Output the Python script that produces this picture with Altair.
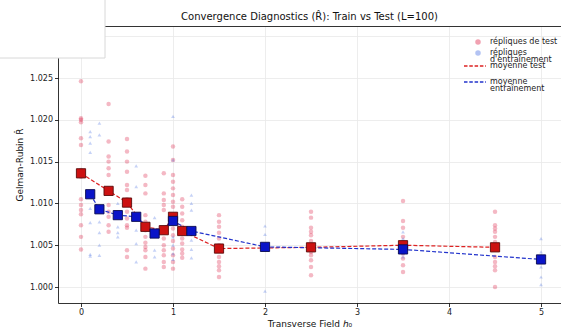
import altair as alt
import pandas as pd

# ---- replicate R-hat values per transverse field (test replicates) ----
test_h = [0.0, 0.3, 0.5, 0.7, 0.9, 1.0, 1.1, 1.5, 2.5, 3.5, 4.5]
test_reps = [
    [1.0246, 1.0202, 1.0200, 1.0197, 1.0178, 1.0170, 1.0140, 1.0132, 1.0105, 1.0098, 1.0092, 1.0087, 1.0074, 1.0060, 1.0045],
    [1.0219, 1.0174, 1.0156, 1.0150, 1.0142, 1.0134, 1.0118, 1.0098, 1.0090, 1.0084, 1.0074, 1.0066],
    [1.0177, 1.0162, 1.0150, 1.0138, 1.0122, 1.0116, 1.0105, 1.0090, 1.0082, 1.0074, 1.0071, 1.0044, 1.0036],
    [1.0133, 1.0122, 1.0112, 1.0086, 1.0078, 1.0068, 1.0060, 1.0053, 1.0048, 1.0044, 1.0036, 1.0022],
    [1.0136, 1.0112, 1.0104, 1.0098, 1.0092, 1.0065, 1.0058, 1.0050, 1.0044, 1.0038, 1.0030, 1.0024],
    [1.0168, 1.0152, 1.0134, 1.0126, 1.0118, 1.0110, 1.0102, 1.0096, 1.0077, 1.0070, 1.0062, 1.0055, 1.0046, 1.0038, 1.0030, 1.0022],
    [1.0105, 1.0096, 1.0088, 1.0080, 1.0072, 1.0065, 1.0058, 1.0052, 1.0045, 1.0040, 1.0035],
    [1.0086, 1.0078, 1.0072, 1.0065, 1.0058, 1.0050, 1.0036, 1.0030, 1.0025, 1.0020, 1.0012],
    [1.0090, 1.0083, 1.0071, 1.0066, 1.0062, 1.0055, 1.0048, 1.0042, 1.0038, 1.0032, 1.0024, 1.0014],
    [1.0103, 1.0079, 1.0071, 1.0060, 1.0054, 1.0048, 1.0040, 1.0034, 1.0026, 1.0018],
    [1.0090, 1.0074, 1.0070, 1.0066, 1.0060, 1.0054, 1.0046, 1.0036, 1.0030, 1.0025, 1.0020, 1.0000],
]
test_mean = [1.0136, 1.0115, 1.0101, 1.0072, 1.0068, 1.0084, 1.0067, 1.0046, 1.00475, 1.0050, 1.00475]

# ---- training replicates ----
train_h = [0.1, 0.2, 0.4, 0.6, 0.8, 1.0, 1.2, 2.0, 3.5, 5.0]
train_reps = [
    [1.0186, 1.0180, 1.0172, 1.0161, 1.0094, 1.0077, 1.0039, 1.0037],
    [1.0196, 1.0182, 1.0078, 1.0065, 1.0050, 1.0038],
    [1.0100, 1.0072, 1.0065, 1.0060],
    [1.0145, 1.0120, 1.0068, 1.0052, 1.0030],
    [1.0083, 1.0044, 1.0036],
    [1.0204, 1.0152, 1.0085, 1.0060, 1.0050, 1.0040, 1.0033],
    [1.0110, 1.0100, 1.0092, 1.0056, 1.0045, 1.0035],
    [1.0073, 1.0063, 1.0050, 1.0045, 0.9995],
    [1.0066, 1.0058, 1.0040, 1.0036],
    [1.0058, 1.0042, 1.0038, 1.0024, 1.0012, 1.0003],
]
train_mean = [1.0111, 1.0093, 1.0086, 1.0084, 1.0064, 1.0079, 1.0067, 1.0048, 1.0045, 1.0033]

x_ticks = [0, 1, 2, 3, 4, 5]
y_ticks = [1.000, 1.005, 1.010, 1.015, 1.020, 1.025, 1.030]

TITLE = "Convergence Diagnostics (R̂): Train vs Test (L=100)"
S_TEST = "répliques de test"
S_TRAIN = "répliques d'entraînement"
M_TEST = "moyenne test"
M_TRAIN = "moyenne entraînement"
rep_series = [S_TEST, S_TRAIN]
rep_colors = ["#dc143c", "#4169e1"]
rep_shapes = ["circle", "triangle-up"]
rep_sizes = [20, 14]
mean_series = [M_TEST, M_TRAIN]
mean_colors = ["#dd2222", "#2233cc"]

rep_test = pd.DataFrame(
    [(h, r, S_TEST) for h, reps in zip(test_h, test_reps) for r in reps],
    columns=["h", "R", "serie"],
)
rep_train = pd.DataFrame(
    [(h, r, S_TRAIN) for h, reps in zip(train_h, train_reps) for r in reps],
    columns=["h", "R", "serie"],
)
replicates = pd.concat([rep_test, rep_train], ignore_index=True)
mean_test = pd.DataFrame({"h": test_h, "R": test_mean, "serie": M_TEST})
mean_train = pd.DataFrame({"h": train_h, "R": train_mean, "serie": M_TRAIN})
means = pd.concat([mean_test, mean_train], ignore_index=True)
heading_row = pd.DataFrame({"label": [TITLE]})

W, H = 503, 277

x_enc = alt.X(
    "h:Q",
    title="Transverse Field ℎ₀",
    scale=alt.Scale(domain=[-0.25, 5.217], nice=False, zero=False),
    axis=alt.Axis(values=x_ticks, format="d"),
)
y_enc = alt.Y(
    "R:Q",
    title="Gelman-Rubin R̂",
    scale=alt.Scale(domain=[0.99809, 1.03122], nice=False, zero=False),
    axis=alt.Axis(values=y_ticks, format=".3f"),
)

two_lines = (
    'datum.label == "répliques d\'entraînement" ? ["répliques", "d\'entraînement"] : '
    'datum.label == "moyenne entraînement" ? ["moyenne", "entraînement"] : datum.label'
)

rep_legend = alt.Legend(
    title=None, orient="none", legendX=416, legendY=12, padding=0,
    labelFontSize=8, labelLimit=200, rowPadding=3, labelOffset=8,
    symbolSize=30, symbolOpacity=0.4, labelExpr=two_lines,
)
mean_legend = alt.Legend(
    title=None, orient="none", legendX=405, legendY=28, padding=0,
    labelFontSize=8, labelLimit=200, rowPadding=-10, labelOffset=3,
    symbolType="stroke", symbolSize=484, symbolDash=[3.5, 1.8],
    symbolStrokeWidth=1.3, labelExpr=two_lines,
)

pts = alt.Chart(replicates).mark_point(filled=True, opacity=0.3).encode(
    x=x_enc,
    y=y_enc,
    color=alt.Color("serie:N", scale=alt.Scale(domain=rep_series, range=rep_colors), legend=rep_legend),
    shape=alt.Shape("serie:N", scale=alt.Scale(domain=rep_series, range=rep_shapes), legend=rep_legend),
    size=alt.Size("serie:N", scale=alt.Scale(domain=rep_series, range=rep_sizes), legend=None),
)

lines = alt.Chart(means).mark_line(strokeWidth=1.2, strokeDash=[4, 2]).encode(
    x=x_enc,
    y=y_enc,
    color=alt.Color("serie:N", scale=alt.Scale(domain=mean_series, range=mean_colors), legend=mean_legend),
)

sq_test = alt.Chart(mean_test).mark_square(
    size=85, fill="#cc1111", stroke="#5a0a0a", strokeWidth=0.9, opacity=1
).encode(x=x_enc, y=y_enc)
sq_train = alt.Chart(mean_train).mark_square(
    size=85, fill="#0a14c8", stroke="#0a0a50", strokeWidth=0.9, opacity=1
).encode(x=x_enc, y=y_enc)

# top frame line of the axes
top_spine = alt.Chart(heading_row).mark_rule(color="#333", strokeWidth=1).encode(
    y=alt.value(0.5), x=alt.value(0), x2=alt.value(W)
)
# blank panel sitting over the upper-left corner
corner = alt.Chart(heading_row).mark_rect(
    fill="white", stroke="#d8d8d8", strokeWidth=1
).encode(x=alt.value(-62), x2=alt.value(47), y=alt.value(-32), y2=alt.value(32))

# chart heading, centred over the plot area
heading = alt.Chart(heading_row).mark_text(
    fontSize=10, color="#111", align="center", baseline="middle", fontWeight="normal"
).encode(text="label:N", x=alt.value(W / 2), y=alt.value(-9))

chart = (
    alt.layer(pts, lines, sq_test, sq_train, top_spine, corner, heading)
    .resolve_scale(color="independent")
    .properties(
        width=W,
        height=H,
        padding={"left": 58, "top": 26, "right": 0, "bottom": 28},
        autosize="none",
    )
    .configure(font="DejaVu Sans", style={"guide-label": {"lineHeight": 7}})
    .configure_view(stroke=None)
    .configure_axis(
        domainColor="#000",
        domainWidth=0.8,
        tickColor="#000",
        tickWidth=0.8,
        tickSize=3.5,
        labelFontSize=8,
        labelColor="#222",
        labelPadding=2,
        titleFontSize=9,
        titleFontWeight="normal",
        titleColor="#111",
        gridColor="#e8e8e8",
        gridWidth=0.8,
    )
    .configure_axisX(titlePadding=3, labelFlush=False)
    .configure_axisY(titlePadding=5, labelFlush=False)
    .configure_legend(labelColor="#222")
)

chart.save("out.html", embed_options={"renderer": "svg", "actions": False})
